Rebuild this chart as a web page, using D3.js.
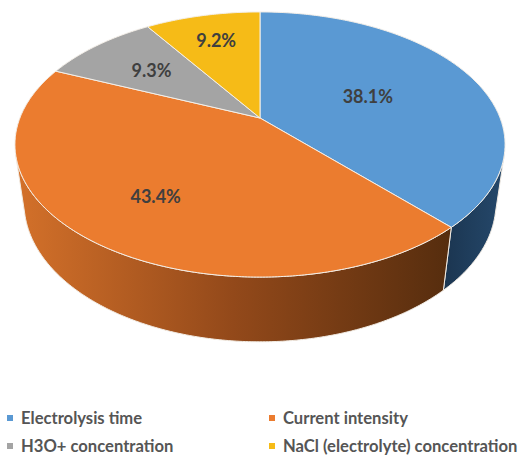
<!DOCTYPE html>
<html>
<head>
<meta charset="utf-8">
<script src="https://cdn.jsdelivr.net/npm/d3@7/dist/d3.min.js"></script>
<style>
  html, body { margin: 0; padding: 0; background: #ffffff; }
  svg { display: block; }
</style>
</head>
<body>
<svg id="chart" width="526" height="466"></svg>
<script>
// Factor shares (%) of the electrolysis process
const categories = ["Electrolysis time", "Current intensity", "H3O+ concentration", "NaCl (electrolyte) concentration"];
const shares = [38.1, 43.4, 9.3, 9.2];
const shareLabels = ["38.1%", "43.4%", "9.3%", "9.2%"];

// Colours: top faces and side walls (light -> mid -> dark across the wall)
const topColors = ["#5a99d3", "#eb7c2f", "#a4a4a4", "#f6bb17"];
const sideLight = ["#25486b", "#d4712a", "#6b6b6b", "#a07800"];
const sideMid   = ["#203f5e", "#93491a", "#5a5a5a", "#876500"];
const sideDark  = ["#1b3550", "#562d0e", "#4a4a4a", "#6e5300"];
// Radial position of each value label on the top face (fraction of radius)
const labelRadius = [0.5, 0.67, 0.64, 0.73];

const svg = d3.select("#chart");

// Perspective camera for the tilted disc
const cx = 260, cy = 118;          // screen position of the disc centre
const tilt = Math.asin(0.53);       // elevation of the viewer
const camDist = 4.24;               // camera distance (in disc radii)
const focal = 1018;                 // focal length in px
const depth = 0.295;                // disc thickness (in radii)
const sinT = Math.sin(tilt), cosT = Math.cos(tilt);

// angle a: clockwise from 12 o'clock, r: radius fraction, z: height (0 = top)
function project(a, r, z) {
  const X = r * Math.sin(a), Y = -r * Math.cos(a), Z = z;
  const dist = camDist - Y * cosT - Z * sinT;
  return [cx + focal * X / dist, cy + focal * (Y * sinT - Z * cosT) / dist];
}

const pie = d3.pie().sort(null).value(d => d).startAngle(0).endAngle(2 * Math.PI);
const arcs = pie(shares);

const line = d3.line();
function arcPoints(a0, a1, z) {
  const n = Math.max(2, Math.ceil(Math.abs(a1 - a0) / 0.01));
  return d3.range(n + 1).map(i => project(a0 + (a1 - a0) * i / n, 1, z));
}

// Side wall is visible where its outward normal faces the camera
const visA0 = Math.acos(-1 / (camDist * cosT));
const visA1 = 2 * Math.PI - visA0;

const defs = svg.append("defs");
const gWalls = svg.append("g");
const gTops = svg.append("g");
const gLabels = svg.append("g");

arcs.forEach((d, i) => {
  const a0 = Math.max(d.startAngle, visA0), a1 = Math.min(d.endAngle, visA1);
  if (a1 <= a0) return;
  const top = arcPoints(a0, a1, 0);
  const bottom = arcPoints(a1, a0, -depth);
  const pts = top.concat(bottom);
  const xs = d3.extent(pts, p => p[0]);
  const gid = "wall" + i;
  const grad = defs.append("linearGradient").attr("id", gid)
    .attr("gradientUnits", "userSpaceOnUse")
    .attr("x1", i === 1 ? 15 : xs[1]).attr("x2", i === 1 ? 450 : xs[0])
    .attr("y1", 0).attr("y2", 0);
  grad.append("stop").attr("offset", 0).attr("stop-color", sideLight[i]);
  grad.append("stop").attr("offset", 0.5).attr("stop-color", sideMid[i]);
  grad.append("stop").attr("offset", 1).attr("stop-color", sideDark[i]);
  gWalls.append("path")
    .attr("d", line(pts) + "Z")
    .attr("fill", `url(#${gid})`)
    .attr("stroke", "#f2ece4").attr("stroke-width", 1).attr("stroke-linejoin", "round");
});

// Top faces
arcs.forEach((d, i) => {
  const pts = [project(0, 0, 0)].concat(arcPoints(d.startAngle, d.endAngle, 0));
  gTops.append("path")
    .attr("d", line(pts) + "Z")
    .attr("fill", topColors[i])
    .attr("stroke", "#f4efe8").attr("stroke-width", 1).attr("stroke-linejoin", "round");
});

// Value labels
arcs.forEach((d, i) => {
  const mid = (d.startAngle + d.endAngle) / 2;
  const [x, y] = project(mid, labelRadius[i], 0);
  gLabels.append("text")
    .attr("x", x).attr("y", y)
    .attr("text-anchor", "middle").attr("dominant-baseline", "central")
    .attr("font-family", "Lato, 'Open Sans', sans-serif")
    .attr("font-weight", "bold").attr("font-size", 18)
    .attr("fill", "#3f3f3f")
    .text(shareLabels[i]);
});

// Legend: two columns, two rows
const legendCol = d3.scaleOrdinal().domain([0, 1]).range([7, 269]);
const legendRow = d3.scaleOrdinal().domain([0, 1]).range([418, 446]);
const legend = svg.append("g");
categories.forEach((c, i) => {
  const x = legendCol(i % 2), y = legendRow(Math.floor(i / 2));
  legend.append("rect").attr("x", x).attr("y", y - 3).attr("width", 6).attr("height", 6)
    .attr("fill", topColors[i]);
  legend.append("text")
    .attr("x", x + 14).attr("y", y)
    .attr("dominant-baseline", "central")
    .attr("font-family", "Lato, 'Open Sans', sans-serif")
    .attr("font-weight", "bold").attr("font-size", 16.6)
    .attr("fill", "#555555")
    .text(c);
});
</script>
</body>
</html>
